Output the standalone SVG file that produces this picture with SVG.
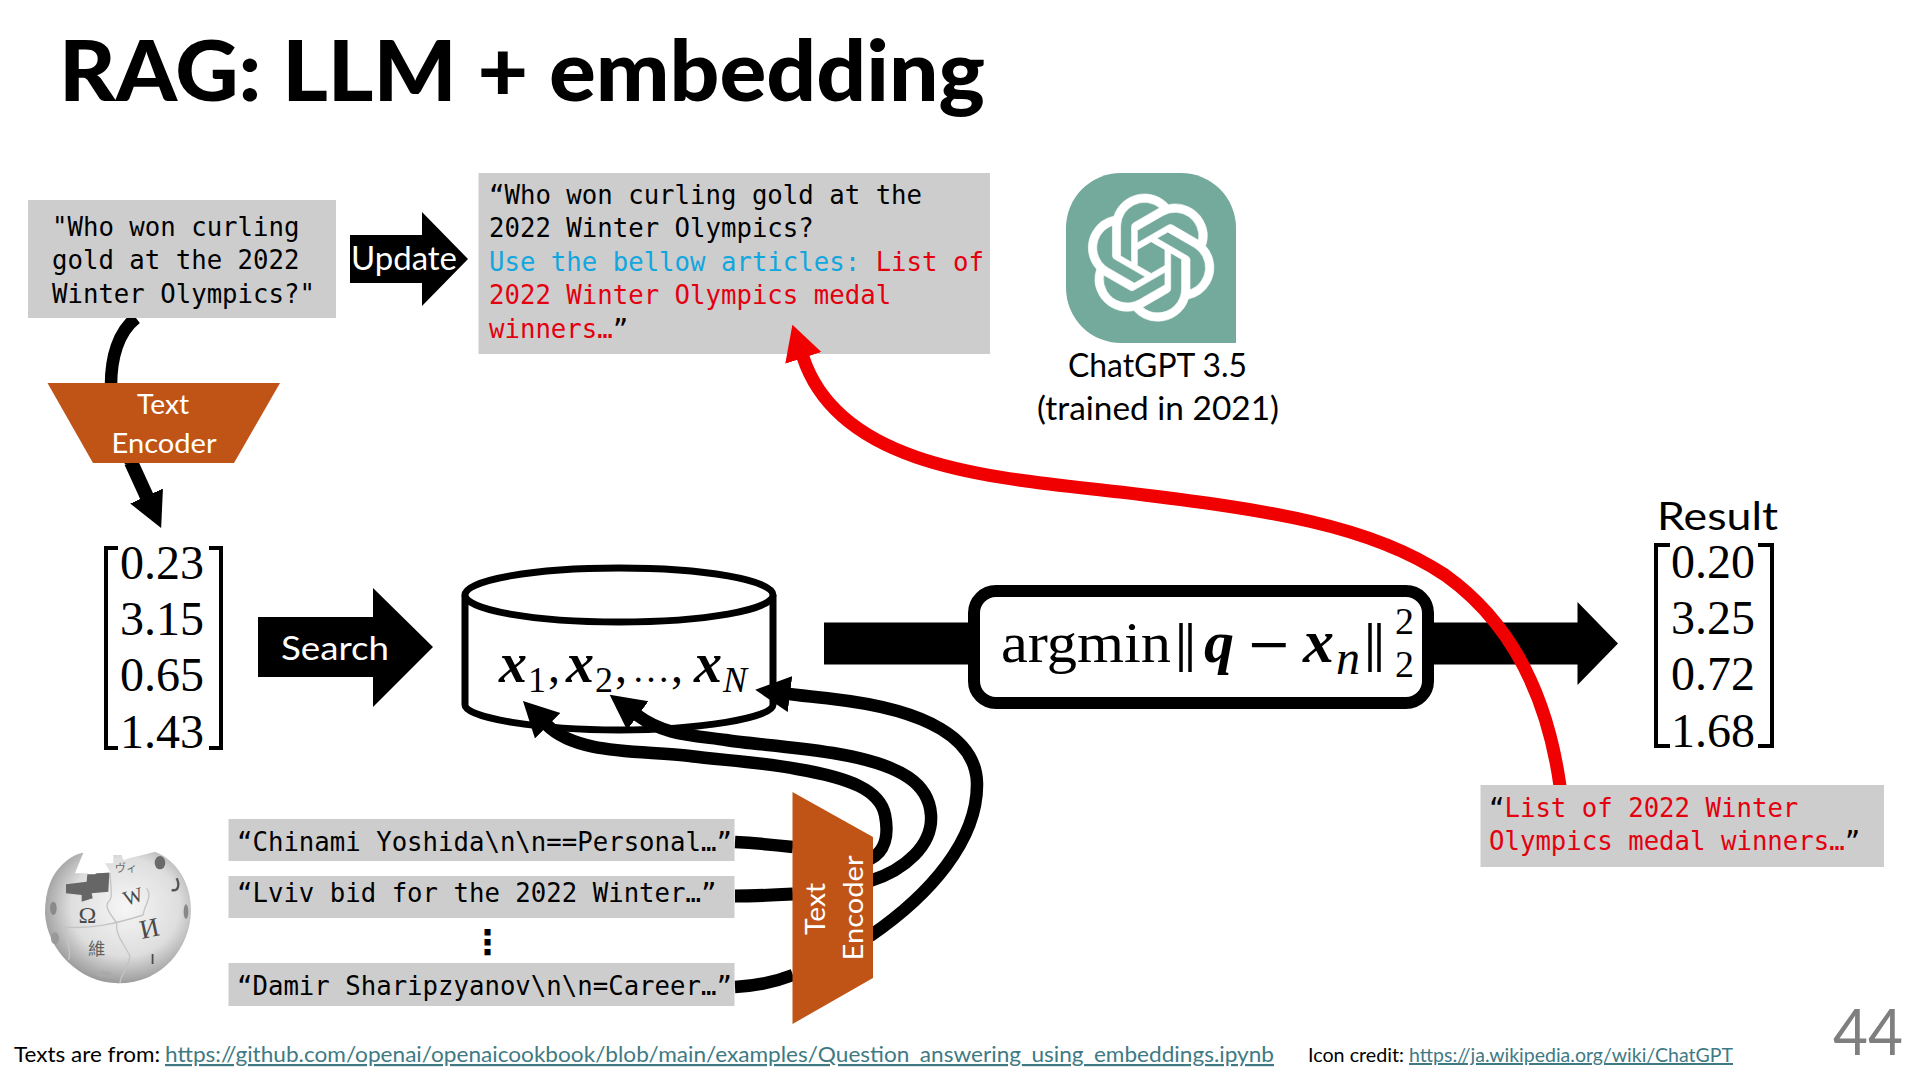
<svg xmlns="http://www.w3.org/2000/svg" width="1920" height="1080" viewBox="0 0 1920 1080">
<style>
text{white-space:pre}
.s{font-family:Lato,"Open Sans",sans-serif}
.m{font-family:"DejaVu Sans Mono","Liberation Mono",monospace;font-size:25.7px;fill:#000}
.c{font-family:"Liberation Serif",serif;fill:#000}
.bi{font-family:"Liberation Serif",serif;font-weight:bold;font-style:italic;fill:#000}
.box{fill:#cdcdcd}
.enc{fill:#c05417}
.w{fill:#fff}
.red{fill:#e3000f}
.blue{fill:#12a6de}
.link{fill:#3f7a84;text-decoration:underline}
.wire{fill:none;stroke:#000;stroke-width:12.5}
.br{fill:none;stroke:#000;stroke-width:4}
.puz{fill:none;stroke:#c4c4c4;stroke-width:4}
.gl{fill:#4a4a4a}
</style>
<defs>
<marker id="ah" markerUnits="userSpaceOnUse" markerWidth="37" markerHeight="38" viewBox="0 -19 37 38" refX="1" refY="0" orient="auto"><path d="M0,-18 L35,0 L0,18Z" fill="#000"/></marker>
<marker id="ahr" markerUnits="userSpaceOnUse" markerWidth="37" markerHeight="40" viewBox="0 -20 37 40" refX="1" refY="0" orient="auto"><path d="M0,-19 L35,0 L0,19Z" fill="#f00000"/></marker>
<radialGradient id="globe" cx="0.55" cy="0.42" r="0.62"><stop offset="0" stop-color="#f6f6f6"/><stop offset="0.6" stop-color="#dedede"/><stop offset="1" stop-color="#8f8f8f"/></radialGradient>
</defs>
<rect width="1920" height="1080" fill="#fff"/>
<text id="title" class="s" x="59" y="101" font-size="84" font-weight="900" textLength="926" lengthAdjust="spacingAndGlyphs">RAG: LLM + embedding</text>

<g id="database"><path d="M465,595 V705 C465,718 540,730 619,730 C698,730 773,718 773,705 V595" fill="#fff" stroke="#000" stroke-width="7"/>
<ellipse cx="619" cy="595" rx="154" ry="27" fill="#fff" stroke="#000" stroke-width="7"/>
<text class="bi" x="499" y="682" font-size="56">x</text><text class="c" x="528" y="692" font-size="36">1</text><text class="c" x="548" y="682" font-size="48">,</text>
<text class="bi" x="566" y="682" font-size="56">x</text><text class="c" x="595" y="692" font-size="36">2</text><text class="c" x="615" y="682" font-size="48">,</text>
<text class="c" x="632" y="682" font-size="38">…</text><text class="c" x="671" y="682" font-size="48">,</text>
<text class="bi" x="694" y="682" font-size="56">x</text><text x="723" y="692" font-size="36" font-style="italic" class="c">N</text></g>

<g id="connectors">
<path class="wire" d="M136,318 C118,332 111,358 111,385 L131,463"/>
<path class="wire" style="stroke-width:14" d="M131,462 L147,497" marker-end="url(#ah)"/>
<path class="wire" d="M735,842 C755,843 775,845 793,847"/>
<path class="wire" style="stroke-width:13" d="M735,896 C755,896 775,895 793,894"/>
<path class="wire" d="M735,987 C755,986 775,982 793,975"/>
<path class="wire" d="M870,859 C885,852 889,835 885,815 C880,790 850,778 797,769 C760,762 720,760 690,756 C640,750 577,755 547,725" marker-end="url(#ah)"/>
<path class="wire" d="M870,881 C905,870 933,845 931,815 C929,785 905,765 833,753 C790,746 750,744 726,740 C690,735 664,735 637,715" marker-end="url(#ah)"/>
<path class="wire" d="M870,936 C930,895 978,840 977,783 C976,740 930,710 833,699 C815,697 805,696 789,694" marker-end="url(#ah)"/>
</g>

<g id="query"><rect class="box" x="28" y="200" width="308" height="118"/>
<text class="m" x="52" y="236">"Who won curling</text>
<text class="m" x="52" y="269">gold at the 2022</text>
<text class="m" x="52" y="303">Winter Olympics?"</text></g>

<g id="update-arrow"><path d="M350,235 H422 V212 L468,259 L422,306 V283 H350Z" fill="#000"/>
<text class="s w" x="351" y="270" font-size="33" textLength="106" lengthAdjust="spacingAndGlyphs">Update</text></g>

<g id="prompt"><rect class="box" x="478.500" y="173" width="511.500" height="181"/>
<text class="m" x="489" y="204">“Who won curling gold at the</text>
<text class="m" x="489" y="237">2022 Winter Olympics?</text>
<text class="m" x="489" y="271"><tspan class="blue">Use the bellow articles: </tspan><tspan class="red">List of</tspan></text>
<text class="m red" x="489" y="304">2022 Winter Olympics medal</text>
<text class="m" x="489" y="338"><tspan class="red">winners…</tspan>”</text></g>

<g id="chatgpt"><path d="M1121,173 H1181 A55,55 0 0 1 1236,228 V343 H1121 A55,55 0 0 1 1066,288 V228 A55,55 0 0 1 1121,173Z" fill="#74aa9c"/>
<path transform="translate(1087.500,194) scale(5.3)" fill="#fff" stroke="#fff" stroke-width="0.12" d="M22.2819 9.8211a5.9847 5.9847 0 0 0-.5157-4.9108 6.0462 6.0462 0 0 0-6.5098-2.9A6.0651 6.0651 0 0 0 4.9807 4.1818a5.9847 5.9847 0 0 0-3.9977 2.9 6.0462 6.0462 0 0 0 .7427 7.0966 5.98 5.98 0 0 0 .511 4.9107 6.051 6.051 0 0 0 6.5146 2.9001A5.9847 5.9847 0 0 0 13.2599 24a6.0557 6.0557 0 0 0 5.7718-4.2058 5.9894 5.9894 0 0 0 3.9977-2.9001 6.0557 6.0557 0 0 0-.7475-7.0729zm-9.022 12.6081a4.4755 4.4755 0 0 1-2.8764-1.0408l.1419-.0804 4.7783-2.7582a.7948.7948 0 0 0 .3927-.6813v-6.7369l2.02 1.1686a.071.071 0 0 1 .038.052v5.5826a4.504 4.504 0 0 1-4.4945 4.4944zm-9.6607-4.1254a4.4708 4.4708 0 0 1-.5346-3.0137l.142.0852 4.783 2.7582a.7712.7712 0 0 0 .7806 0l5.8428-3.3685v2.3324a.0804.0804 0 0 1-.0332.0615L9.74 19.9502a4.4992 4.4992 0 0 1-6.1408-1.6464zM2.3408 7.8956a4.485 4.485 0 0 1 2.3655-1.9728V11.6a.7664.7664 0 0 0 .3879.6765l5.8144 3.3543-2.0201 1.1685a.0757.0757 0 0 1-.071 0l-4.8303-2.7865A4.504 4.504 0 0 1 2.3408 7.872zm16.5963 3.8558L13.1038 8.364 15.1192 7.2a.0757.0757 0 0 1 .071 0l4.8303 2.7913a4.4944 4.4944 0 0 1-.6765 8.1042v-5.6772a.79.79 0 0 0-.407-.667zm2.0107-3.0231l-.142-.0852-4.7735-2.7818a.7759.7759 0 0 0-.7854 0L9.409 9.2297V6.8974a.0662.0662 0 0 1 .0284-.0615l4.8303-2.7866a4.4992 4.4992 0 0 1 6.6802 4.66zM8.3065 12.863l-2.02-1.1638a.0804.0804 0 0 1-.038-.0567V6.0742a4.4992 4.4992 0 0 1 7.3757-3.4537l-.142.0805L8.704 5.459a.7948.7948 0 0 0-.3927.6813zm1.0976-2.3654l2.602-1.4998 2.6069 1.4998v2.9994l-2.5974 1.4997-2.6067-1.4997Z"/>
<text class="s" x="1068" y="377" font-size="32" textLength="179" lengthAdjust="spacingAndGlyphs">ChatGPT 3.5</text>
<text class="s" x="1037" y="420" font-size="32" textLength="242" lengthAdjust="spacingAndGlyphs">(trained in 2021)</text></g>

<g id="encoder-top"><path class="enc" d="M47.500,383 H280 L234,463 H93Z"/>
<text class="s w" x="163" y="414" font-size="27" text-anchor="middle" textLength="52" lengthAdjust="spacingAndGlyphs">Text</text>
<text class="s w" x="164" y="453" font-size="27" text-anchor="middle" textLength="105" lengthAdjust="spacingAndGlyphs">Encoder</text></g>

<g id="query-vector">
<path class="br" d="M118,548 H106 V748 H118 M209,548 H221 V748 H209"/>
<text class="c" x="120" y="579" font-size="48">0.23</text>
<text class="c" x="120" y="635" font-size="48">3.15</text>
<text class="c" x="120" y="691" font-size="48">0.65</text>
<text class="c" x="120" y="748" font-size="48">1.43</text></g>

<g id="search-arrow"><path d="M258,617 H373 V588 L433,647 L373,707 V677 H258Z" fill="#000"/>
<text class="s w" x="281" y="660" font-size="33" textLength="108" lengthAdjust="spacingAndGlyphs">Search</text></g>

<g id="big-arrow"><path d="M824,622.500 H1577.500 V602 L1618,643.500 L1577.500,685 V664.500 H824Z" fill="#000"/></g>

<g id="argmin"><rect x="974" y="591" width="454" height="112" rx="22" fill="#fff" stroke="#000" stroke-width="12"/>
<text class="c" x="1001" y="662" font-size="56" textLength="170" lengthAdjust="spacingAndGlyphs">argmin</text>
<path d="M1181,623 V672 M1190,623 V672 M1370,623 V672 M1379,623 V672" stroke="#000" stroke-width="3.500"/>
<text class="bi" x="1204" y="662" font-size="60">q</text>
<text x="1246" y="662" font-family="DejaVu Serif,serif" font-size="54">−</text>
<text class="bi" x="1303" y="662" font-size="62">x</text>
<text class="c" x="1336" y="674" font-size="48" font-style="italic">n</text>
<text class="c" x="1395" y="634" font-size="38">2</text>
<text class="c" x="1395" y="677" font-size="38">2</text></g>

<g id="result">
<text class="s" x="1657" y="530" font-size="38" textLength="121" lengthAdjust="spacingAndGlyphs">Result</text>
<path class="br" d="M1670,545 H1656 V746 H1670 M1758,545 H1772 V746 H1758"/>
<text class="c" x="1671" y="578" font-size="48">0.20</text>
<text class="c" x="1671" y="634" font-size="48">3.25</text>
<text class="c" x="1671" y="690" font-size="48">0.72</text>
<text class="c" x="1671" y="747" font-size="48">1.68</text></g>

<path id="red-connector" d="M1560,786 C1548,700 1515,625 1445,575 C1370,525 1270,510 1120,492 C1000,478 840,470 803,357" fill="none" stroke="#f00000" stroke-width="13" marker-end="url(#ahr)"/>

<g id="retrieved"><rect class="box" x="1480.500" y="785" width="403.500" height="82"/>
<text class="m" x="1489" y="817">“<tspan class="red">List of 2022 Winter</tspan></text>
<text class="m" x="1489" y="850"><tspan class="red">Olympics medal winners…</tspan>”</text></g>

<g id="wikipedia">
<g transform="translate(30,840) scale(0.3333)">
<path fill="url(#globe)" d="M60,130 C75,90 115,45 160,38 L135,100 L170,100 L180,105 L240,95 L225,70 L250,70 L250,45 L275,45 L280,60 C310,50 340,45 375,35 C440,60 485,130 483,215 C480,320 400,430 265,430 C150,430 50,330 45,220 C45,185 50,155 60,130Z"/>
<path class="puz" d="M100,260 C180,270 260,250 340,225 M240,180 C215,200 250,230 260,250 C255,290 290,320 300,350 C290,390 270,410 270,430 M110,260 C100,300 130,330 115,360 M350,145 C370,170 340,200 340,225 M240,100 C240,130 250,160 240,180"/>
<path fill="#666" d="M108,133 L170,125 L172,103 L195,103 L200,100 L238,98 L235,155 L185,160 L188,175 L155,185 L155,165 L108,160Z"/>
<text x="172" y="250" font-family="Liberation Serif,serif" font-size="72" text-anchor="middle" class="gl">Ω</text>
<text x="310" y="190" font-family="Liberation Serif,serif" font-size="62" text-anchor="middle" class="gl" transform="rotate(-18 310 170)">W</text>
<text x="358" y="292" font-family="Liberation Serif,serif" font-size="80" text-anchor="middle" class="gl" transform="rotate(-12 358 265)">И</text>
<text x="200" y="345" font-family="'Noto Sans CJK TC',sans-serif" font-size="52" text-anchor="middle" class="gl" fill-opacity="0.85">維</text>
<text x="288" y="95" font-family="'Noto Sans CJK JP',sans-serif" font-size="34" text-anchor="middle" class="gl" fill-opacity="0.8">ヴィ</text>
<text x="368" y="372" font-family="'DejaVu Sans',sans-serif" font-size="56" text-anchor="middle" class="gl">ו</text>
<ellipse cx="390" cy="68" rx="16" ry="20" fill="#6a6a6a"/>
<path d="M440,115 C450,135 445,155 425,150" fill="none" stroke="#555" stroke-width="7"/>
<ellipse cx="468" cy="215" rx="7" ry="22" fill="#888"/>
<ellipse cx="70" cy="205" rx="10" ry="20" fill="#8a8a8a"/>
<ellipse cx="75" cy="295" rx="12" ry="18" fill="#999"/>
<ellipse cx="222" cy="402" rx="22" ry="9" fill="#aaa"/>
</g></g>

<g id="doc1"><rect class="box" x="228.500" y="819" width="506" height="42"/><text class="m" x="237" y="851">“Chinami Yoshida\n\n==Personal…”</text></g>
<g id="doc2"><rect class="box" x="228.500" y="876" width="506" height="42"/><text class="m" x="237" y="902">“Lviv bid for the 2022 Winter…”</text></g>
<text id="ellipsis" x="487.500" y="954" font-family="DejaVu Sans,sans-serif" font-size="34" font-weight="bold" text-anchor="middle">⋮</text>
<g id="doc3"><rect class="box" x="228.500" y="963" width="506" height="43"/><text class="m" x="237" y="995">“Damir Sharipzyanov\n\n=Career…”</text></g>

<g id="encoder-bottom"><path class="enc" d="M792.500,792 L873,837 V978 L792.500,1024Z"/>
<text class="s w" transform="translate(825,909) rotate(-90)" font-size="27" text-anchor="middle" textLength="52" lengthAdjust="spacingAndGlyphs">Text</text>
<text class="s w" transform="translate(863,908) rotate(-90)" font-size="27" text-anchor="middle" textLength="105" lengthAdjust="spacingAndGlyphs">Encoder</text></g>

<g id="footer">
<text class="s" x="14" y="1062" font-size="22" textLength="146" lengthAdjust="spacingAndGlyphs">Texts are from:</text>
<text class="s link" x="165" y="1062" font-size="22" textLength="1109" lengthAdjust="spacingAndGlyphs">https://github.com/openai/openaicookbook/blob/main/examples/Question_answering_using_embeddings.ipynb</text>
<text class="s" x="1308" y="1062" font-size="20" textLength="96" lengthAdjust="spacingAndGlyphs">Icon credit:</text>
<text class="s link" x="1409" y="1062" font-size="20" textLength="324" lengthAdjust="spacingAndGlyphs">https://ja.wikipedia.org/wiki/ChatGPT</text>
<text class="s" x="1833" y="1055" font-size="64" fill="#7f7f7f" textLength="70" lengthAdjust="spacingAndGlyphs">44</text>
</g>
</svg>
